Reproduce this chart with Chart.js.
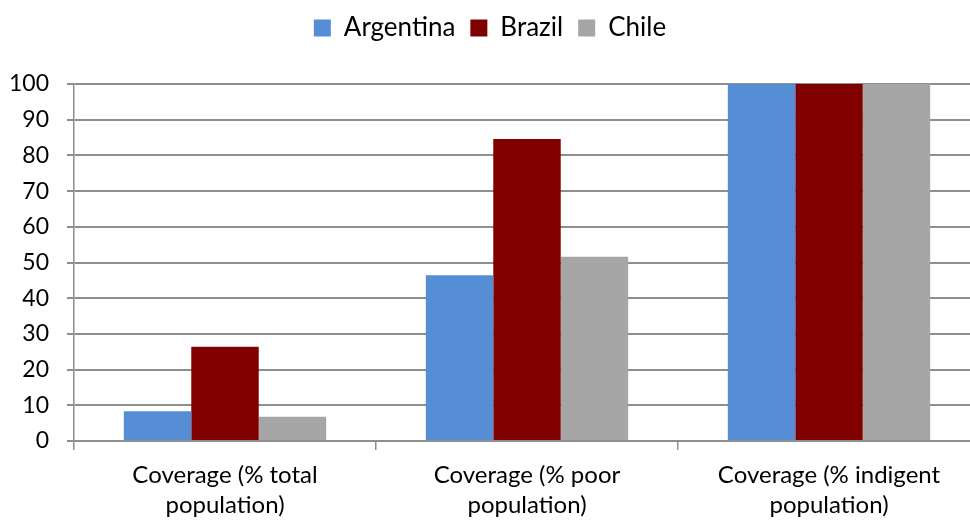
<!DOCTYPE html>
<html>
<head>
<meta charset="utf-8">
<script src="https://cdn.jsdelivr.net/npm/chart.js@4/dist/chart.umd.min.js"></script>
<style>
  html, body { margin: 0; padding: 0; background: #fff; overflow: hidden; }
  #wrap { width: 1000px; height: 520px; }
</style>
</head>
<body>
<div id="wrap"><canvas id="chart-coverage"></canvas></div>
<script>
const categories = [
    ['Coverage (% total', 'population)'],
    ['Coverage (% poor', 'population)'],
    ['Coverage (% indigent', 'population)']
];
const argentina = [8.3, 46.4, 100];
const brazil = [26.4, 84.6, 100];
const chile = [6.8, 51.6, 100];
const yTicks = [0, 10, 20, 30, 40, 50, 60, 70, 80, 90, 100];

const fontFamily = 'Lato, "Open Sans", sans-serif';
const gridColor = '#8e8e8e';

const datasets = [
    { label: 'Argentina', data: argentina, backgroundColor: '#558ed5' },
    { label: 'Brazil', data: brazil, backgroundColor: '#800000' },
    { label: 'Chile', data: chile, backgroundColor: '#a6a6a6' }
];

// legend gets a fixed block above the plot
const legendSpace = {
    id: 'legendSpace',
    beforeInit(chart) {
        const fit = chart.legend.fit;
        chart.legend.fit = function () {
            fit.bind(chart.legend)();
            this.height = 84;
        };
    }
};

let options = {
    responsive: true,
    maintainAspectRatio: false,
    animation: false,
    layout: { padding: { left: 0, right: 20, top: 0, bottom: 0 } },
    datasets: {
        bar: { barPercentage: 1.0, categoryPercentage: 0.67 }
    },
    scales: {
        x: {
            afterFit: function (scale) { scale.height = 79; },
            grid: {
                display: true,
                offset: true,
                drawOnChartArea: false,
                drawTicks: true,
                tickLength: 9,
                color: gridColor,
                lineWidth: 1.5
            },
            border: { display: true, color: gridColor, width: 1.5 },
            ticks: {
                color: '#000',
                font: { family: fontFamily, size: 24, lineHeight: 1.25 },
                padding: 10,
                maxRotation: 0
            }
        },
        y: {
            min: 0,
            max: 100,
            afterBuildTicks: function (axis) {
                axis.ticks = yTicks.map(v => ({ value: v }));
            },
            afterFit: function (scale) { scale.width = 74; },
            grid: {
                color: gridColor,
                lineWidth: 2,
                tickLength: 7
            },
            border: { display: true, color: gridColor, width: 1.5 },
            ticks: {
                color: '#000',
                font: { family: fontFamily, size: 23 },
                padding: 18
            }
        }
    },
    plugins: {
        legend: {
            position: 'top',
            labels: {
                color: '#000',
                font: { family: fontFamily, size: 26 },
                boxWidth: 17,
                boxHeight: 17,
                padding: 15
            }
        },
        tooltip: { enabled: false }
    }
};

new Chart(document.getElementById('chart-coverage').getContext('2d'), {
    type: 'bar',
    data: { labels: categories, datasets: datasets },
    options: options,
    plugins: [legendSpace]
});
</script>
</body>
</html>
